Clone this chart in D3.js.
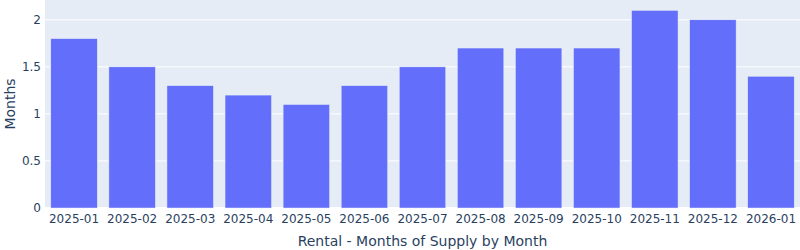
<!DOCTYPE html>
<html>
<head>
<meta charset="utf-8">
<script src="https://cdn.jsdelivr.net/npm/d3@7"></script>
<style>
  body { margin: 0; background: #fff; }
  svg text { font-family: "DejaVu Sans", Verdana, Arial, sans-serif; fill: #2a3f5f; }
</style>
</head>
<body>
<div id="chart"></div>
<script>
var months = ["2025-01", "2025-02", "2025-03", "2025-04", "2025-05", "2025-06", "2025-07",
  "2025-08", "2025-09", "2025-10", "2025-11", "2025-12", "2026-01"];
var supply = [1.8, 1.5, 1.3, 1.2, 1.1, 1.3, 1.5, 1.7, 1.7, 1.7, 2.1, 2.0, 1.4];
var yTicks = [0, 0.5, 1, 1.5, 2];

var svgWidth = 800;
var svgHeight = 250;
var margin = { top: 0, right: 0, bottom: 42, left: 45 };
var width = svgWidth - margin.left - margin.right;
var height = svgHeight - margin.top - margin.bottom;

var svg = d3.select("#chart")
  .append("svg")
  .attr("width", svgWidth)
  .attr("height", svgHeight);

var chartGroup = svg.append("g")
  .attr("transform", `translate(${margin.left}, ${margin.top})`);

// plot background
chartGroup.append("rect")
  .attr("width", width)
  .attr("height", height)
  .attr("fill", "#E5ECF6");

var xScale = d3.scaleBand()
  .domain(months)
  .range([0, width])
  .paddingInner(0.2)
  .paddingOuter(0.1);

var yScale = d3.scaleLinear()
  .domain([0, d3.max(supply) * 1.0526])
  .range([height, 0]);

// gridlines
chartGroup.selectAll(".grid")
  .data(yTicks)
  .enter()
  .append("line")
  .attr("x1", 0)
  .attr("x2", width)
  .attr("y1", d => yScale(d))
  .attr("y2", d => yScale(d))
  .attr("stroke", "#fff")
  .attr("stroke-width", d => d === 0 ? 2 : 1);

// bars
chartGroup.selectAll(".bar")
  .data(supply)
  .enter()
  .append("rect")
  .attr("x", (d, i) => xScale(months[i]))
  .attr("y", d => yScale(d))
  .attr("width", xScale.bandwidth())
  .attr("height", d => height - yScale(d))
  .attr("fill", "#636efa")
  .attr("stroke", "#E5ECF6")
  .attr("stroke-width", 0.5);

// axes
var bottomAxis = d3.axisBottom(xScale).tickSize(0).tickPadding(6);
var leftAxis = d3.axisLeft(yScale).tickValues(yTicks).tickSize(0).tickPadding(4)
  .tickFormat(d3.format("~g"));

var gx = chartGroup.append("g")
  .attr("transform", `translate(0, ${height})`)
  .call(bottomAxis);
gx.select(".domain").remove();
gx.selectAll("text").style("font-size", "12px").style("font-family", "DejaVu Sans").attr("fill", "#2a3f5f");

var gy = chartGroup.append("g").call(leftAxis);
gy.select(".domain").remove();
gy.selectAll("text").style("font-size", "12px").style("font-family", "DejaVu Sans").attr("fill", "#2a3f5f");

// axis titles
chartGroup.append("text")
  .attr("transform", "rotate(-90)")
  .attr("x", -height / 2)
  .attr("y", -margin.left + 15)
  .attr("text-anchor", "middle")
  .style("font-size", "14px")
  .text("Months");

chartGroup.append("text")
  .attr("x", width / 2)
  .attr("y", height + 38)
  .attr("text-anchor", "middle")
  .style("font-size", "14px")
  .text("Rental - Months of Supply by Month");
</script>
</body>
</html>
